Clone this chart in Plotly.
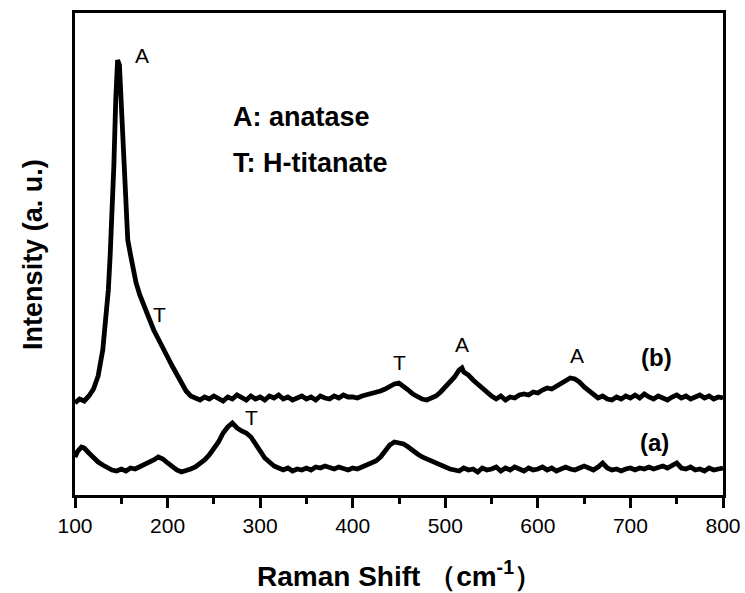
import plotly.graph_objects as go

# Spectrum (b): Raman shift (cm-1) and intensity (a.u.)
shift_b = [100,105,110,115,120,125,130,133,136,138,140,142,144,146,148,150,152,154,157,160,163,166,170,175,180,185,190,195,
           200,205,210,215,220,225,230,235,240,245,250,255,260,265,270,275,280,285,290,295,300,305,310,315,320,325,330,335,
           340,345,350,355,360,365,370,375,380,385,390,395,400,405,410,415,420,425,430,435,440,445,450,455,460,465,470,475,
           480,485,490,495,500,505,510,515,518,520,525,530,535,540,545,550,555,560,565,570,575,580,585,590,595,600,605,610,
           615,620,625,630,635,640,645,650,655,660,665,670,675,680,685,690,695,700,705,710,715,720,725,730,735,740,745,750,
           755,760,765,770,775,780,785,790,795,800]
int_b = [92,96,94,99,106,119,145,170,205,240,275,330,395,435,430,390,335,290,255,240,225,212,200,188,178,165,156,148,
         138,129,120,112,104,99,97,95,98,96,99,97,94,98,96,100,97,95,99,96,98,95,99,97,100,96,98,95,
         97,99,96,98,95,99,97,96,99,97,100,98,98,97,99,100,101,103,104,106,109,111,112,109,105,101,98,96,
         95,97,99,103,108,113,118,125,127,123,120,115,111,106,102,99,96,99,95,98,97,100,101,100,103,102,105,107,
         106,109,112,114,117,116,113,108,104,101,97,99,96,95,98,96,99,97,100,97,101,98,96,99,97,95,98,100,
         97,99,96,98,100,97,99,96,98,97]

# Spectrum (a)
shift_a = [100,103,107,110,115,120,125,130,135,140,145,150,155,160,165,170,175,180,185,190,195,200,205,210,215,220,225,230,
           235,240,245,250,255,260,265,270,275,280,285,290,295,300,305,310,315,320,325,330,335,340,345,350,355,360,365,370,
           375,380,385,390,395,400,405,410,415,420,425,430,435,440,445,450,455,460,465,470,475,480,485,490,495,500,505,510,
           515,520,525,530,535,540,545,550,555,560,565,570,575,580,585,590,595,600,605,610,615,620,625,630,635,640,645,650,
           655,660,665,670,675,680,685,690,695,700,705,710,715,720,725,730,735,740,745,750,755,760,765,770,775,780,785,790,
           795,800]
int_a = [38,44,48,47,42,37,33,30,27,25,24,26,24,27,26,28,30,32,35,38,36,32,28,25,23,24,26,28,
         31,35,40,46,53,62,68,72,67,64,62,58,51,44,37,33,29,27,25,27,24,26,25,27,25,28,27,29,
         27,26,28,27,25,27,26,28,30,32,34,38,44,50,53,52,51,48,44,41,38,36,33,31,30,28,26,25,
         24,27,25,26,23,27,25,26,28,24,27,25,28,26,24,27,25,26,28,25,27,24,26,28,26,25,27,29,
         27,25,28,32,27,25,26,24,26,27,25,27,26,28,26,27,29,27,30,32,27,26,28,25,26,24,27,25,
         26,27]

# Peak labels: (text, shift, intensity)
peak_text = ["A", "T", "T", "A", "A", "T"]
peak_x = [172, 191, 451, 518, 642, 291]
peak_y = [440, 181, 133, 151, 140, 78]

FONT = "Liberation Sans, Arial, sans-serif"

fig = go.Figure()
for xs, ys in [(shift_b, int_b), (shift_a, int_a)]:
    fig.add_trace(go.Scatter(x=xs, y=ys, mode="lines",
                             line=dict(color="black", width=4.8), showlegend=False,
                             hoverinfo="skip"))

annotations = []
for t, x, y in zip(peak_text, peak_x, peak_y):
    annotations.append(dict(x=x, y=y, xref="x", yref="y", text=t, showarrow=False,
                            font=dict(family=FONT, size=21, color="black")))
annotations += [
    dict(x=728, y=138, xref="x", yref="y", text="<b>(b)</b>", showarrow=False,
         font=dict(family=FONT, size=24, color="black")),
    dict(x=726, y=53, xref="x", yref="y", text="<b>(a)</b>", showarrow=False,
         font=dict(family=FONT, size=24, color="black")),
    dict(x=269, y=378, xref="x", yref="y", text="<b>A: anatase</b>", showarrow=False,
         xanchor="left", font=dict(family=FONT, size=27, color="black")),
    dict(x=269, y=332, xref="x", yref="y", text="<b>T: H-titanate</b>", showarrow=False,
         xanchor="left", font=dict(family=FONT, size=27, color="black")),
    dict(x=0.5, y=-0.163, xref="paper", yref="paper", text="<b>Raman Shift （cm<sup>-1</sup>）</b>",
         showarrow=False, yanchor="middle", font=dict(family=FONT, size=28, color="black")),
    dict(x=-0.065, y=0.5, xref="paper", yref="paper", text="<b>Intensity (a. u.)</b>",
         showarrow=False, textangle=-90, xanchor="center",
         font=dict(family=FONT, size=27, color="black")),
]

fig.update_layout(
    width=745, height=593, autosize=False,
    margin=dict(l=75, r=22, t=13, b=98, pad=0, autoexpand=False),
    paper_bgcolor="white", plot_bgcolor="white",
    annotations=annotations,
    xaxis=dict(range=[100, 800], tickvals=[100, 200, 300, 400, 500, 600, 700, 800],
               automargin=False,
               showline=True, linecolor="black", linewidth=3, mirror=True,
               ticks="outside", ticklen=10, tickwidth=3, tickcolor="black",
               minor=dict(tickvals=[150, 250, 350, 450, 550, 650, 750], ticks="outside",
                          ticklen=6, tickwidth=3, tickcolor="black"),
               showgrid=False, zeroline=False,
               tickfont=dict(family=FONT, size=21, color="black")),
    yaxis=dict(range=[0, 482], automargin=False,
               showline=True, linecolor="black", linewidth=3, mirror=True,
               ticks="", showticklabels=False, showgrid=False, zeroline=False),
)

fig.write_html("out.html", config={"displayModeBar": False},
               post_script="document.body.style.margin='0';document.body.style.overflow='hidden';")
